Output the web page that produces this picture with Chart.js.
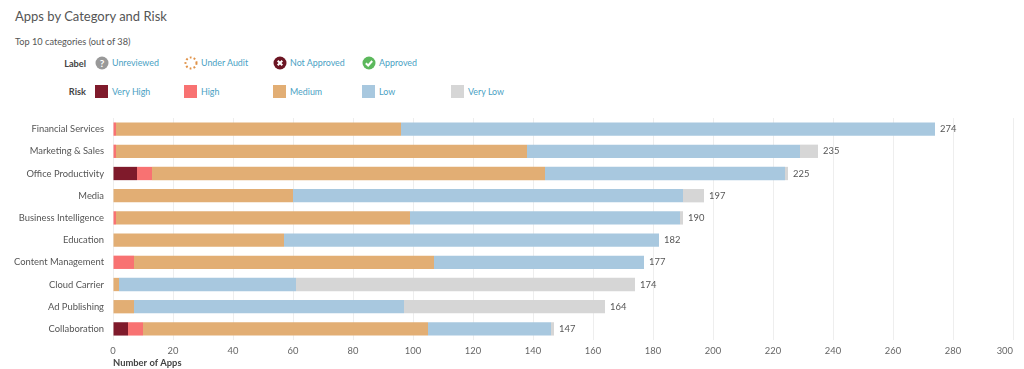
<!DOCTYPE html>
<html>
<head>
<meta charset="utf-8">
<title>Apps by Category and Risk</title>
<script src="https://cdn.jsdelivr.net/npm/chart.js@4/dist/chart.umd.min.js"></script>
<style>
  html, body { margin: 0; padding: 0; background: #fff; overflow: hidden; }
  body { width: 1024px; height: 369px; position: relative; font-family: Lato, sans-serif; color: #555; }
  .title { position: absolute; left: 15px; top: 8px; font-size: 13px; line-height: 17px; color: #555; }
  .sub { position: absolute; left: 15px; top: 36px; font-size: 9.2px; line-height: 12px; color: #555; }
  .rowname { position: absolute; width: 86px; text-align: right; font-size: 9.2px; line-height: 12px; font-weight: 700; color: #444; }
  .item { position: absolute; font-size: 8.9px; line-height: 12px; color: #4a9fc4; white-space: nowrap; }
  .swatch { position: absolute; width: 13px; height: 13px; }
  .icon { position: absolute; width: 14px; height: 14px; }
  #wrap { position: absolute; left: 0; top: 115px; width: 1024px; height: 254px; }
  canvas { display: block; }
</style>
</head>
<body>
<div class="title">Apps by Category and Risk</div>
<div class="sub">Top 10 categories (out of 38)</div>
<div id="legend"></div>
<div id="wrap"><canvas id="riskChart" width="1024" height="254"></canvas></div>
<script>
// Chart data
const categories = ["Financial Services", "Marketing & Sales", "Office Productivity", "Media", "Business Intelligence", "Education", "Content Management", "Cloud Carrier", "Ad Publishing", "Collaboration"];
const veryHigh = [0, 0, 8, 0, 0, 0, 0, 0, 0, 5];
const high = [1, 1, 5, 0, 1, 0, 7, 0, 0, 5];
const medium = [95, 137, 131, 60, 98, 57, 100, 2, 7, 95];
const low = [178, 91, 80, 130, 90, 125, 70, 59, 90, 41];
const veryLow = [0, 6, 1, 7, 1, 0, 0, 113, 67, 1];
const totals = [274, 235, 225, 197, 190, 182, 177, 174, 164, 147];
const xTicks = [0, 20, 40, 60, 80, 100, 120, 140, 160, 180, 200, 220, 240, 260, 280, 300];

const labelItems = ["Unreviewed", "Under Audit", "Not Approved", "Approved"];
const riskItems = ["Very High", "High", "Medium", "Low", "Very Low"];
const riskColors = ["#7f1a2b", "#f87272", "#e2ae74", "#a8c8df", "#d6d6d6"];
const legendX = [95, 184, 273, 362, 451];

const iconSvg = {
    "Unreviewed": '<circle cx="7" cy="7" r="6.5" fill="#999"/><text x="7" y="10.5" font-size="10" font-weight="700" text-anchor="middle" fill="#fff" font-family="Lato">?</text>',
    "Under Audit": '<circle cx="7" cy="7" r="5.5" fill="none" stroke="#e0934a" stroke-width="2" stroke-dasharray="1.8 2.2"/>',
    "Not Approved": '<circle cx="7" cy="7" r="6.5" fill="#6b1523"/><path d="M4.7 4.7L9.3 9.3M9.3 4.7L4.7 9.3" stroke="#fff" stroke-width="2"/>',
    "Approved": '<circle cx="7" cy="7" r="6.5" fill="#5cb85c"/><path d="M3.8 7.2L6.2 9.5L10.2 5" fill="none" stroke="#fff" stroke-width="2"/>'
};

// Build the legend rows above the chart
function addRowName(text, top) {
    const el = document.createElement("div");
    el.className = "rowname";
    el.style.top = top + "px";
    el.textContent = text;
    document.getElementById("legend").appendChild(el);
}

function buildLegend() {
    const legend = document.getElementById("legend");
    addRowName("Label", 58);
    addRowName("Risk", 86);

    labelItems.forEach((name, i) => {
        const icon = document.createElementNS("http://www.w3.org/2000/svg", "svg");
        icon.setAttribute("class", "icon");
        icon.setAttribute("viewBox", "0 0 14 14");
        icon.style.left = legendX[i] + "px";
        icon.style.top = "56px";
        icon.innerHTML = iconSvg[name];
        legend.appendChild(icon);

        const text = document.createElement("div");
        text.className = "item";
        text.style.left = (legendX[i] + 17) + "px";
        text.style.top = "57px";
        text.textContent = name;
        legend.appendChild(text);
    });

    riskItems.forEach((name, i) => {
        const swatch = document.createElement("div");
        swatch.className = "swatch";
        swatch.style.left = legendX[i] + "px";
        swatch.style.top = "85px";
        swatch.style.background = riskColors[i];
        legend.appendChild(swatch);

        const text = document.createElement("div");
        text.className = "item";
        text.style.left = (legendX[i] + 17) + "px";
        text.style.top = "85.5px";
        text.textContent = name;
        legend.appendChild(text);
    });
}
buildLegend();

// Writes the total next to each bar, and the last x tick pulled inside the canvas
const totalLabels = {
    id: "totalLabels",
    afterDatasetsDraw(chart) {
        const ctx = chart.ctx;
        ctx.save();
        ctx.font = '9.4px Lato';
        ctx.fillStyle = "#555";
        ctx.textBaseline = "middle";
        totals.forEach((total, i) => {
            const x = chart.scales.x.getPixelForValue(total);
            const y = chart.scales.y.getPixelForValue(i);
            ctx.fillText(total, x + 5, y);
        });
        const lastTick = xTicks[xTicks.length - 1];
        ctx.textAlign = "right";
        ctx.fillStyle = "#666";
        ctx.fillText(lastTick, chart.scales.x.getPixelForValue(lastTick), chart.scales.x.top + 11);
        ctx.restore();
    }
};

const seriesList = [veryHigh, high, medium, low, veryLow];

new Chart(document.getElementById("riskChart"), {
    type: "bar",
    data: {
        labels: categories,
        datasets: seriesList.map((values, i) => ({
            label: riskItems[i],
            data: values,
            backgroundColor: riskColors[i],
            borderWidth: 0,
            categoryPercentage: 0.6,
            barPercentage: 1
        }))
    },
    options: {
        indexAxis: "y",
        responsive: false,
        animation: false,
        layout: { padding: { left: 0, right: 11, top: 3, bottom: 0 } },
        plugins: { legend: { display: false }, tooltip: { enabled: false } },
        scales: {
            x: {
                stacked: true,
                min: 0,
                max: 300,
                afterBuildTicks: axis => { axis.ticks = xTicks.map(v => ({ value: v })); },
                afterFit: axis => { axis.height = 29; },
                grid: { color: "#eeeeee", drawTicks: false },
                border: { display: false },
                ticks: {
                    color: "#666",
                    font: { size: 9.4, family: "Lato" },
                    padding: 5,
                    maxRotation: 0,
                    autoSkip: false,
                    callback: value => value === xTicks[xTicks.length - 1] ? "" : value
                },
                title: { display: true, text: "Number of Apps", align: "start", color: "#444", font: { size: 9.4, weight: "bold", family: "Lato" }, padding: { top: 0, bottom: 0 } }
            },
            y: {
                stacked: true,
                afterFit: axis => {
                    axis.width = 113;
                    axis.paddingTop = 0;
                    axis.paddingBottom = 0;
                },
                grid: { display: false, drawTicks: false },
                border: { display: false },
                ticks: { color: "#555", font: { size: 9.4, family: "Lato" }, padding: 9, autoSkip: false }
            }
        }
    },
    plugins: [totalLabels]
});
</script>
</body>
</html>
